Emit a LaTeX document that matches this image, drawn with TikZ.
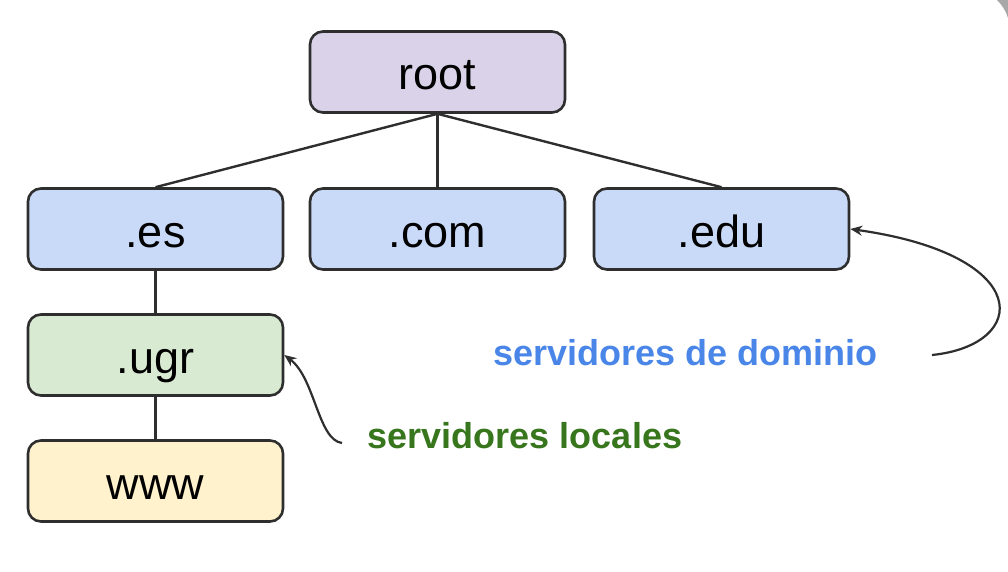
\documentclass[tikz,border=0pt]{standalone}
\usepackage{fontspec}
\setmainfont{Liberation Sans}
\usetikzlibrary{arrows.meta}
\definecolor{boxline}{HTML}{2E2E2E}
\definecolor{rootfill}{HTML}{D9D2E9}
\definecolor{tldfill}{HTML}{C9DAF8}
\definecolor{ugrfill}{HTML}{D9EAD3}
\definecolor{wwwfill}{HTML}{FFF2CC}
\definecolor{domblue}{HTML}{4A86E8}
\definecolor{locgreen}{HTML}{38761D}
\definecolor{cornergrey}{HTML}{A8A8A8}
\tikzset{
  dnsbox/.style={draw=boxline, line width=2.6pt, rounded corners=13pt,
    minimum width=255pt, minimum height=81pt, inner sep=0pt,
    text height=40pt, text depth=4pt,
    font=\fontsize{45}{54}\selectfont},
  tree/.style={draw=boxline, line width=2.4pt},
  note/.style={font=\fontsize{36}{43}\selectfont\bfseries, inner sep=0pt,
    text height=26pt, text depth=8pt},
  pointer/.style={draw=boxline, line width=2.2pt, -{Stealth[length=12pt,width=10pt]}}
}
\begin{document}
\begin{tikzpicture}[x=1pt,y=-1pt]
\useasboundingbox (0,0) rectangle (1008,572);
\fill[cornergrey] (997,0) .. controls (1002,5) and (1006,11) .. (1008,18) -- (1008,0) -- cycle;
\node[dnsbox, fill=rootfill] (root) at (437.5,72) {root};
\node[dnsbox, fill=tldfill] (es) at (155.5,229) {.es};
\node[dnsbox, fill=tldfill] (com) at (437.5,229) {.com};
\node[dnsbox, fill=tldfill] (edu) at (721.5,229) {.edu};
\node[dnsbox, fill=ugrfill] (ugr) at (155.5,355) {.ugr};
\node[dnsbox, fill=wwwfill] (www) at (155.5,481) {www};
\draw[tree] (root.south) -- (es.north);
\draw[tree] (root.south) -- (com.north);
\draw[tree] (root.south) -- (edu.north);
\draw[tree] (es.south) -- (ugr.north);
\draw[tree] (ugr.south) -- (www.north);
\node[note, text=domblue] (dom) at (685.5,356) {servidores de dominio};
\node[note, text=locgreen] (loc) at (525,439) {servidores locales};
\coordinate (domstart) at (932,355);
\coordinate (locstart) at (342,443);
\draw[pointer] (domstart) .. controls (1030,345) and (1035,255) .. (edu.east);
\draw[pointer] (locstart) .. controls (318,440) and (315,378) .. (ugr.east);
\end{tikzpicture}
\end{document}
